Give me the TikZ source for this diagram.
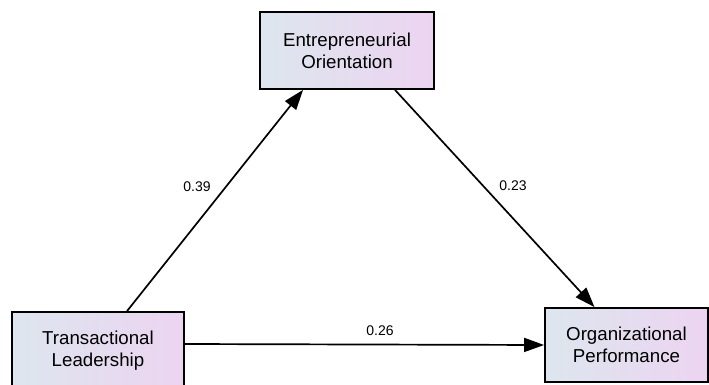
\documentclass[tikz,border=0pt]{standalone}
\usepackage{fontspec}
\setmainfont{Liberation Sans}
\usetikzlibrary{arrows.meta}
\definecolor{boxleft}{RGB}{221,230,238}
\definecolor{boxright}{RGB}{236,212,241}
\tikzset{
    vnode/.style = {align=center, inner sep=0pt, text centered, draw=black, line width=1.8pt,
        left color=boxleft, right color=boxright, font=\fontsize{18.7}{22}\selectfont},
    path_line/.style = {line width=1.7pt, -{Triangle[length=20pt, width=14pt]}},
    coef/.style = {font=\fontsize{14}{16}\selectfont, inner sep=0pt}
}
\begin{document}
\begin{tikzpicture}[x=1pt, y=-1pt]
    \useasboundingbox (0,0) rectangle (709,385);

    \node [vnode, minimum width=174pt, minimum height=77pt] (eo) at (347,50.5) {Entrepreneurial\\Orientation};
    \node [vnode, minimum width=172pt, minimum height=77pt] (tl) at (98,350.5) {Transactional\\Leadership};
    \node [vnode, minimum width=163pt, minimum height=74pt] (op) at (626.5,345) {Organizational\\Performance};

    \draw [path_line] ([xshift=29pt]tl.north) -- ([xshift=-44pt]eo.south);
    \draw [path_line] ([xshift=48pt]eo.south) -- ([xshift=-32pt]op.north);
    \draw [path_line] ([yshift=6.5pt]tl.east) -- (op.west);

    \node [coef] (c_tl_eo) at (197,187) {0.39};
    \node [coef] (c_eo_op) at (513,186) {0.23};
    \node [coef] (c_tl_op) at (380,331) {0.26};
\end{tikzpicture}
\end{document}
